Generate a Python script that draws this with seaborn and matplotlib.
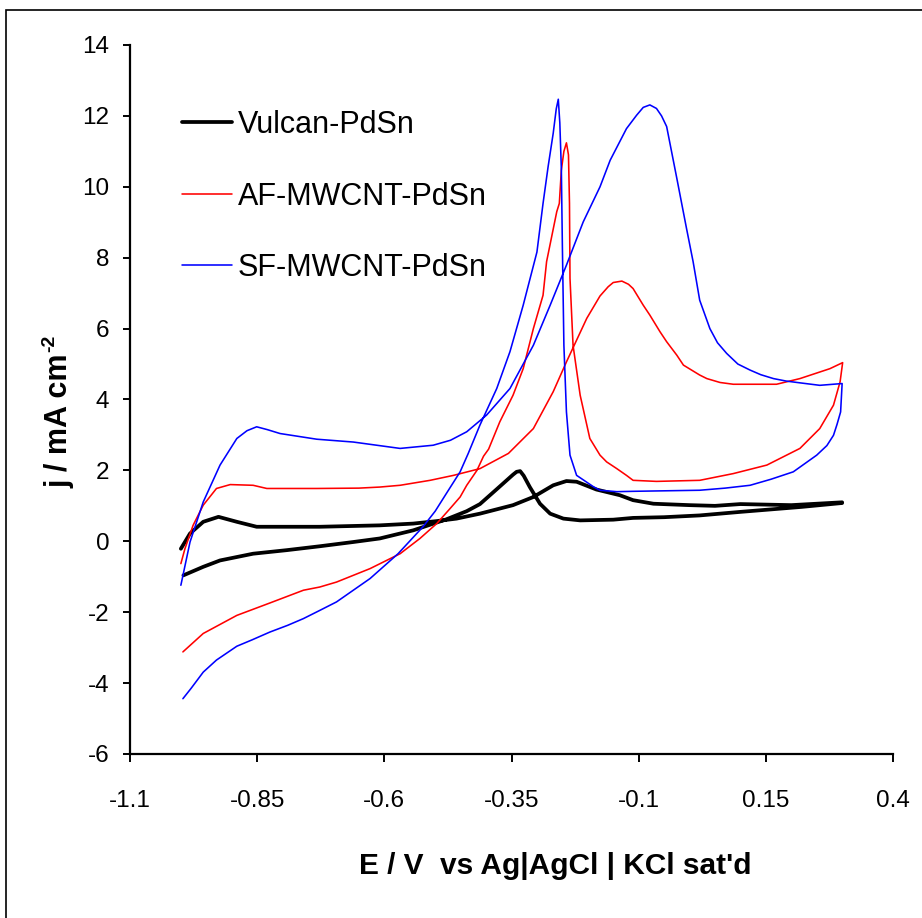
import numpy as np
import pandas as pd
import matplotlib
matplotlib.use("Agg")
import matplotlib.pyplot as plt
from matplotlib.patches import Rectangle
from matplotlib.transforms import IdentityTransform
import seaborn as sns

# ---------------- data ----------------
series_names = ["Vulcan-PdSn", "AF-MWCNT-PdSn", "SF-MWCNT-PdSn"]

# Vulcan-PdSn : forward (anodic) then reverse scan
vulcan_fwd_E = [-1.0, -0.982, -0.956, -0.926, -0.890, -0.851, -0.727, -0.609, -0.543, -0.497,
                -0.458, -0.412, -0.347, -0.307, -0.268, -0.242, -0.222, -0.183, -0.137, -0.111,
                -0.071, 0.0, 0.05, 0.1, 0.2, 0.3]
vulcan_fwd_j = [-0.21, 0.22, 0.55, 0.69, 0.55, 0.41, 0.41, 0.45, 0.50, 0.57,
                0.64, 0.78, 1.02, 1.25, 1.58, 1.70, 1.68, 1.46, 1.30, 1.16,
                1.06, 1.02, 1.00, 1.05, 1.02, 1.10]
vulcan_rev_E = [0.3, 0.22, 0.1, 0.02, -0.05, -0.111, -0.150, -0.215, -0.248, -0.274,
                -0.294, -0.314, -0.326, -0.333, -0.340, -0.347, -0.379, -0.412, -0.438, -0.478,
                -0.543, -0.609, -0.661, -0.727, -0.792, -0.858, -0.923, -0.956, -0.995]
vulcan_rev_j = [1.08, 0.97, 0.83, 0.73, 0.68, 0.66, 0.61, 0.59, 0.64, 0.78,
                1.06, 1.53, 1.85, 1.98, 1.96, 1.88, 1.47, 1.05, 0.85, 0.62,
                0.31, 0.08, -0.02, -0.14, -0.25, -0.35, -0.54, -0.72, -0.96]

# AF-MWCNT-PdSn
af_fwd_E = [-1.0, -0.992, -0.976, -0.956, -0.930, -0.903, -0.858, -0.831, -0.733, -0.65,
            -0.609, -0.569, -0.510, -0.464, -0.412, -0.356, -0.307, -0.268, -0.242, -0.202,
            -0.176, -0.160, -0.150, -0.133, -0.120, -0.111, -0.091, -0.078, -0.058, -0.045,
            -0.025, -0.012, 0.020, 0.034, 0.060, 0.086, 0.171, 0.217, 0.276, 0.301]
af_fwd_j = [-0.63, -0.21, 0.45, 1.02, 1.49, 1.60, 1.58, 1.49, 1.49, 1.50,
            1.53, 1.58, 1.72, 1.86, 2.05, 2.48, 3.18, 4.22, 5.06, 6.29,
            6.92, 7.18, 7.30, 7.34, 7.25, 7.13, 6.66, 6.38, 5.91, 5.63,
            5.25, 4.97, 4.69, 4.59, 4.48, 4.43, 4.43, 4.59, 4.87, 5.04]
af_rev_E = [0.301, 0.296, 0.283, 0.256, 0.217, 0.152, 0.086, 0.020, -0.065, -0.111,
            -0.124, -0.143, -0.163, -0.176, -0.196, -0.215, -0.229, -0.235, -0.236, -0.238,
            -0.242, -0.247, -0.252, -0.256, -0.261, -0.281, -0.288, -0.307, -0.327, -0.347,
            -0.373, -0.395, -0.405, -0.418, -0.438, -0.451, -0.471, -0.497, -0.530, -0.569,
            -0.628, -0.694, -0.727, -0.759, -0.825, -0.890, -0.956, -0.996]
af_rev_j = [5.04, 4.50, 3.84, 3.18, 2.62, 2.15, 1.91, 1.72, 1.69, 1.72,
            1.86, 2.05, 2.24, 2.43, 2.90, 4.12, 5.53, 7.42, 9.53, 10.90,
            11.24, 11.00, 10.47, 9.53, 9.30, 7.89, 6.94, 6.00, 4.87, 4.12,
            3.37, 2.60, 2.40, 2.00, 1.58, 1.25, 0.92, 0.50, 0.08, -0.35,
            -0.77, -1.15, -1.29, -1.38, -1.74, -2.09, -2.60, -3.12]

# SF-MWCNT-PdSn
sf_fwd_E = [-1.0, -0.982, -0.956, -0.923, -0.890, -0.870, -0.851, -0.830, -0.805, -0.733,
            -0.661, -0.569, -0.504, -0.470, -0.438, -0.399, -0.353, -0.307, -0.274, -0.242,
            -0.209, -0.176, -0.156, -0.124, -0.104, -0.091, -0.078, -0.065, -0.055, -0.045,
            -0.025, -0.006, 0.007, 0.020, 0.040, 0.055, 0.073, 0.095, 0.119, 0.140,
            0.165, 0.190, 0.217, 0.256, 0.300]
sf_fwd_j = [-1.24, -0.02, 1.11, 2.15, 2.90, 3.12, 3.23, 3.15, 3.04, 2.88,
            2.80, 2.62, 2.71, 2.85, 3.09, 3.56, 4.31, 5.53, 6.66, 7.79,
            9.01, 10.00, 10.75, 11.64, 12.02, 12.24, 12.31, 12.21, 12.00, 11.70,
            10.24, 8.83, 7.89, 6.80, 6.00, 5.60, 5.30, 5.00, 4.83, 4.70,
            4.59, 4.52, 4.47, 4.40, 4.45]
sf_rev_E = [0.300, 0.297, 0.290, 0.283, 0.270, 0.250, 0.204, 0.160, 0.119, 0.070,
            0.020, -0.111, -0.143, -0.176, -0.189, -0.222, -0.235, -0.242, -0.247, -0.250,
            -0.252, -0.255, -0.258, -0.262, -0.268, -0.278, -0.288, -0.300, -0.327, -0.353,
            -0.379, -0.412, -0.435, -0.451, -0.478, -0.500, -0.524, -0.573, -0.628, -0.694,
            -0.727, -0.759, -0.790, -0.825, -0.860, -0.890, -0.930, -0.956, -0.980, -0.996]
sf_rev_j = [4.45, 3.65, 3.30, 2.99, 2.70, 2.43, 1.96, 1.75, 1.58, 1.50,
            1.44, 1.41, 1.40, 1.44, 1.54, 1.86, 2.43, 3.65, 5.53, 8.35,
            10.50, 11.80, 12.47, 12.20, 11.51, 10.57, 9.53, 8.16, 6.66, 5.35,
            4.31, 3.28, 2.48, 1.96, 1.35, 0.85, 0.41, -0.35, -1.05, -1.71,
            -1.95, -2.18, -2.37, -2.56, -2.78, -2.96, -3.35, -3.69, -4.15, -4.44]

x_ticks = [-1.1, -0.85, -0.6, -0.35, -0.1, 0.15, 0.4]
x_tick_labels = ["-1.1", "-0.85", "-0.6", "-0.35", "-0.1", "0.15", "0.4"]
y_ticks = [-6, -4, -2, 0, 2, 4, 6, 8, 10, 12, 14]
y_tick_labels = [str(v) for v in y_ticks]

colors = {"Vulcan-PdSn": "#000000", "AF-MWCNT-PdSn": "#FF0000", "SF-MWCNT-PdSn": "#0000FF"}
widths = {"Vulcan-PdSn": 2.7, "AF-MWCNT-PdSn": 1.15, "SF-MWCNT-PdSn": 1.15}

# ---------------- build table ----------------
frames = []
for name, fE, fj, rE, rj in [
    ("Vulcan-PdSn", vulcan_fwd_E, vulcan_fwd_j, vulcan_rev_E, vulcan_rev_j),
    ("AF-MWCNT-PdSn", af_fwd_E, af_fwd_j, af_rev_E, af_rev_j),
    ("SF-MWCNT-PdSn", sf_fwd_E, sf_fwd_j, sf_rev_E, sf_rev_j),
]:
    E = list(fE) + list(rE)
    j = list(fj) + list(rj)
    frames.append(pd.DataFrame({"E": E, "j": j, "series": name, "order": range(len(E))}))
df = pd.concat(frames, ignore_index=True)

# ---------------- style ----------------
sns.set_theme(style="white")
plt.rcParams["font.family"] = ["Liberation Sans", "DejaVu Sans"]
plt.rcParams["axes.unicode_minus"] = False
for key in ["text.color", "axes.labelcolor", "xtick.color", "ytick.color", "axes.edgecolor"]:
    plt.rcParams[key] = "black"

fig = plt.figure(figsize=(9.22, 9.18), dpi=100)
fig.patch.set_facecolor("white")
ax = fig.add_axes([130 / 922, 1 - 754 / 918, 763 / 922, 709 / 918])
ax.set_facecolor("white")

for name in series_names:
    sub = df[df["series"] == name]
    sns.lineplot(data=sub, x="E", y="j", sort=False, estimator=None,
                 color=colors[name], linewidth=widths[name], label=name, ax=ax)

ax.set_xlim(-1.1, 0.4)
ax.set_ylim(-6, 14)
ax.set_xticks(x_ticks)
ax.set_xticklabels(x_tick_labels)
ax.set_yticks(y_ticks)
ax.set_yticklabels(y_tick_labels)

for side in ["top", "right"]:
    ax.spines[side].set_visible(False)
for side in ["left", "bottom"]:
    ax.spines[side].set_color("black")
    ax.spines[side].set_linewidth(1.6)

ax.tick_params(axis="x", direction="out", length=6, width=1.4, colors="black",
               labelsize=17.5, pad=20, bottom=True)
ax.tick_params(axis="y", direction="out", length=5, width=1.4, colors="black",
               labelsize=17.5, pad=10, left=True)
ax.set_xlabel("")
ax.set_ylabel("")

fig.text(555 / 922, 1 - 866 / 918, "E / V  vs Ag|AgCl | KCl sat'd",
         fontsize=21.5, fontweight="bold", ha="center", va="center", color="black")

ylab = fig.text(60 / 922, 1 - 488 / 918, "j / mA cm", fontsize=22, fontweight="bold",
                ha="center", va="bottom", rotation=90, color="black")

leg = ax.legend(loc="upper left", bbox_to_anchor=(182 / 922, 1 - 110 / 918),
                bbox_transform=fig.transFigure, frameon=False, fontsize=22,
                handlelength=1.62, handletextpad=0.2, labelspacing=1.36,
                borderpad=0, borderaxespad=0)
for line, name in zip(leg.get_lines(), series_names):
    line.set_linewidth(widths[name])
for t in leg.get_texts():
    t.set_color("black")

# superscript "-2" for the y label
fig.canvas.draw()
bb = ylab.get_window_extent()
em = 22 * 100 / 72.0
baseline_x = bb.x1 - 0.21 * em
fig.text(baseline_x - 0.42 * em - 0.33 * (14 * 100 / 72.0), bb.y1 + 1, "-2",
         fontsize=14, fontweight="bold", ha="center", va="bottom", rotation=90,
         color="black", transform=IdentityTransform())

# figure frame (left and top edges visible as in the reference)
fig.patches.append(Rectangle((6 / 922, -0.2), 1.5, 1.2 - 10 / 918,
                             transform=fig.transFigure, fill=False,
                             edgecolor="black", linewidth=1.2))

fig.savefig("out.png", dpi=100, facecolor="white")
